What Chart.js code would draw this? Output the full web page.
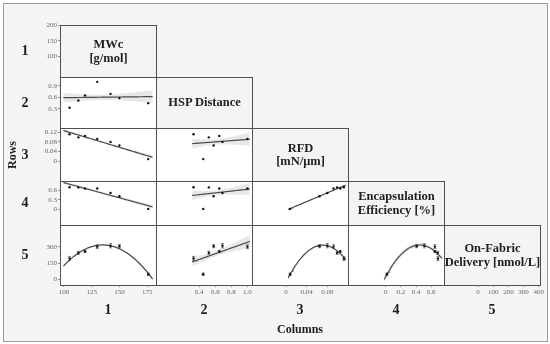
<!DOCTYPE html>
<html><head><meta charset="utf-8">
<script src="https://cdn.jsdelivr.net/npm/chart.js@4/dist/chart.umd.min.js"></script>
<style>
html,body{margin:0;padding:0;background:#fff;}
#wrap{position:relative;width:550px;height:344px;overflow:hidden;font-family:"Liberation Serif",serif;}
.frame{position:absolute;left:3px;top:3px;width:545px;height:339px;box-sizing:border-box;border:1px solid #9a9a9a;background:#f5f5f5;}
.panel{position:absolute;box-sizing:border-box;border:1px solid #505050;z-index:1;}
.lab{position:absolute;display:flex;align-items:center;justify-content:center;text-align:center;font-weight:bold;color:#1e1e1e;white-space:pre-line;z-index:3;}
</style></head>
<body><div id="wrap"><div class="frame"></div></div>
<script>
// ---- data ----
const varNames = ['MWc\n[g/mol]', 'HSP Distance', 'RFD\n[mN/μm]', 'Encapsulation\nEfficiency [%]', 'On-Fabric\nDelivery [nmol/L]'];
const rowLabels = ['1', '2', '3', '4', '5'];
const colLabels = ['1', '2', '3', '4', '5'];
const mwc = [105, 113, 119, 130, 142, 150, 176];
const hsp = [0.33, 0.52, 0.65, 1.0, 0.69, 0.58, 0.45];
const rfd = [0.112, 0.099, 0.105, 0.092, 0.080, 0.065, 0.008];
const enc = [0.69, 0.686, 0.65, 0.65, 0.51, 0.41, 0.015];
const delivery = [192, 245, 258, 303, 312, 308, 45];
const deliveryErr = [20, 15, 10, 18, 20, 15, 12];
const xTickVals = [[100, 125, 150, 175], [0.4, 0.6, 0.8, 1.0], [0, 0.04, 0.08], [0, 0.2, 0.4, 0.6], [0, 100, 200, 300, 400]];
const xTickLabels = [['100', '125', '150', '175'], ['0.4', '0.6', '0.8', '1.0'], ['0', '0.04', '0.08'], ['0', '0.2', '0.4', '0.6'], ['0', '100', '200', '300', '400']];
const yTickVals = [[100, 150, 200], [0.3, 0.6, 0.9], [0, 0.04, 0.08, 0.12], [0, 0.3, 0.6], [0, 150, 300]];
const yTickLabels = [['100', '150', '200'], ['0.3', '0.6', '0.9'], ['0', '0.04', '0.08', '0.12'], ['0', '0.3', '0.6'], ['0', '150', '300']];
const xAxisLabel = 'Columns';
const yAxisLabel = 'Rows';

// ---- layout ----
const series = [mwc, hsp, rfd, enc, delivery];
const xRange = [[96.4, 183], [0.286, 1.057], [0, 0.12], [-0.05, 0.77], [0, 408]];
const yRange = [[79, 200], [0.17, 1.125], [-0.025, 0.138], [-0.05, 0.885], [-56, 506]];
const colEdges = [60, 156, 252, 348, 444, 540];
const rowEdges = [25, 77, 128, 181, 225, 285];
const AX_W = 34, AX_H = 14, M = 6, BAND_K = 0.8;
const wrap = document.getElementById('wrap');
const tickFont = {family: 'Liberation Serif', size: 7};

function invert(A) {
  const n = A.length, M2 = A.map((r, i) => r.concat(A.map((_, j) => i === j ? 1 : 0)));
  for (let i = 0; i < n; i++) {
    let p = i; for (let k = i + 1; k < n; k++) if (Math.abs(M2[k][i]) > Math.abs(M2[p][i])) p = k;
    [M2[i], M2[p]] = [M2[p], M2[i]];
    const d = M2[i][i]; for (let j = 0; j < 2 * n; j++) M2[i][j] /= d;
    for (let k = 0; k < n; k++) if (k !== i) { const f = M2[k][i]; for (let j = 0; j < 2 * n; j++) M2[k][j] -= f * M2[i][j]; }
  }
  return M2.map(r => r.slice(n));
}
function fitPoly(xs, ys, deg) {
  const n = xs.length, p = deg + 1;
  const mx = xs.reduce((a, b) => a + b, 0) / n;
  const sx = Math.sqrt(xs.reduce((a, b) => a + (b - mx) ** 2, 0) / n) || 1;
  const row = x => { const u = (x - mx) / sx; const r = []; for (let k = 0; k < p; k++) r.push(u ** k); return r; };
  const A = Array.from({length: p}, () => Array(p).fill(0)), b = Array(p).fill(0);
  xs.forEach((x, i) => { const r = row(x); for (let a = 0; a < p; a++) { b[a] += r[a] * ys[i]; for (let c = 0; c < p; c++) A[a][c] += r[a] * r[c]; } });
  const inv = invert(A);
  const beta = inv.map(r => r.reduce((s, v, j) => s + v * b[j], 0));
  let ss = 0;
  xs.forEach((x, i) => { const r = row(x); const yh = r.reduce((s, v, j) => s + v * beta[j], 0); ss += (ys[i] - yh) ** 2; });
  const s2 = ss / (n - p);
  return x => {
    const r = row(x); const y = r.reduce((s, v, j) => s + v * beta[j], 0);
    let q = 0; for (let a = 0; a < p; a++) for (let c = 0; c < p; c++) q += r[a] * inv[a][c] * r[c];
    return {y, se: Math.sqrt(s2 * q)};
  };
}

function addDiv(cls, l, t, w, h, css, text) {
  const d = document.createElement('div'); d.className = cls;
  d.style.cssText = `left:${l}px;top:${t}px;width:${w}px;height:${h}px;` + (css || '');
  if (text !== undefined) d.textContent = text;
  wrap.appendChild(d); return d;
}

function axisOpts(show, range, vals, labels, isX, fitSize) {
  return {
    type: 'linear', display: show, min: range[0], max: range[1],
    grid: {display: true, drawOnChartArea: false, drawTicks: true, tickLength: 2, color: '#777', lineWidth: 0.8},
    border: {display: false},
    ticks: {font: tickFont, color: '#666', padding: 1, autoSkip: false, maxRotation: 0, minRotation: 0,
      callback: (v, i) => labels[i]},
    afterBuildTicks: s => { s.ticks = vals.map(v => ({value: v})); },
    afterFit: s => { if (isX) s.height = fitSize; else s.width = fitSize; }
  };
}

function makeChart(r, c) {
  const x0 = colEdges[c], x1 = colEdges[c + 1], y0 = rowEdges[r], y1 = rowEdges[r + 1];
  const showY = c === 0, showX = r === 4;
  const padL = showY ? AX_W : 0, padB = showX ? AX_H : 0;
  const w = padL + (x1 - x0) + M, h = M + (y1 - y0) + padB;
  const cv = document.createElement('canvas');
  cv.width = w; cv.height = h;
  cv.style.cssText = `position:absolute;left:${x0 - padL}px;top:${y0 - M}px;width:${w}px;height:${h}px;z-index:2;`;
  wrap.appendChild(cv);
  const datasets = [];
  if (r !== c) {
    const xs = series[c], ys = series[r];
    const deg = (r === 4 && c !== 1) ? 2 : 1;
    const f = fitPoly(xs, ys, deg);
    const lo = xRange[c][0] + 0.035 * (xRange[c][1] - xRange[c][0]);
    const hi = xRange[c][1] - 0.035 * (xRange[c][1] - xRange[c][0]);
    const fit = [], up = [], dn = [];
    for (let k = 0; k <= 60; k++) {
      const x = lo + (hi - lo) * k / 60, e = f(x);
      fit.push({x, y: e.y}); up.push({x, y: e.y + BAND_K * e.se}); dn.push({x, y: e.y - BAND_K * e.se});
    }
    datasets.push({type: 'line', data: up, borderColor: 'rgba(0,0,0,0)', borderWidth: 0, pointRadius: 0, fill: '+1', backgroundColor: 'rgba(0,0,0,0.09)', order: 4});
    datasets.push({type: 'line', data: dn, borderColor: 'rgba(0,0,0,0)', borderWidth: 0, pointRadius: 0, fill: false, order: 4});
    datasets.push({type: 'line', data: fit, borderColor: '#4a4a4a', borderWidth: 1.2, pointRadius: 0, fill: false, order: 2});
    if (r === 4) {
      const eb = [];
      xs.forEach((x, i) => { eb.push({x, y: ys[i] - deliveryErr[i]}, {x, y: ys[i] + deliveryErr[i]}, {x, y: null}); });
      datasets.push({type: 'line', data: eb, borderColor: '#555', borderWidth: 0.7, spanGaps: false, pointStyle: 'line', pointRadius: 1.5, pointBorderColor: '#555', pointBorderWidth: 0.7, fill: false, order: 1});
    }
    datasets.push({type: 'scatter', data: xs.map((x, i) => ({x, y: ys[i]})), pointRadius: 1.2, pointBackgroundColor: '#111', pointBorderWidth: 0, order: 0});
  }
  new Chart(cv, {
    type: 'scatter',
    data: {datasets},
    options: {
      responsive: false, animation: false, events: [],
      layout: {padding: {left: 0, top: M, right: M, bottom: 0}, autoPadding: false},
      plugins: {legend: {display: false}, tooltip: {enabled: false}},
      scales: {
        x: axisOpts(showX, xRange[c], xTickVals[c], xTickLabels[c], true, AX_H),
        y: axisOpts(showY, yRange[r], yTickVals[r], yTickLabels[r], false, AX_W)
      }
    }
  });
}

// panels
for (let r = 0; r < 5; r++) for (let c = 0; c <= r; c++) {
  const l = colEdges[c], t = rowEdges[r], w = colEdges[c + 1] - l + 1, h = rowEdges[r + 1] - t + 1;
  addDiv('panel', l, t, w, h, `background:${r === c ? '#f4f4f4' : '#ffffff'};`);
  if (r === c) addDiv('lab', l, t, w, h, 'font-size:12.5px;line-height:13.5px;', varNames[r]);
}
for (let r = 0; r < 5; r++) for (let c = 0; c <= r; c++) {
  if (r !== c || (r === 0) || (r === 4)) makeChart(r, c);
}
// row / column labels
rowLabels.forEach((t, r) => addDiv('lab', 12, (rowEdges[r] + rowEdges[r + 1]) / 2 - 10, 26, 20, 'font-size:14px;', t));
colLabels.forEach((t, c) => addDiv('lab', (colEdges[c] + colEdges[c + 1]) / 2 - 20, 300, 40, 20, 'font-size:14px;', t));
addDiv('lab', 250, 320, 100, 18, 'font-size:12px;', xAxisLabel);
addDiv('lab', -18, 146, 60, 18, 'font-size:12px;transform:rotate(-90deg);', yAxisLabel);
</script>
</body></html>
